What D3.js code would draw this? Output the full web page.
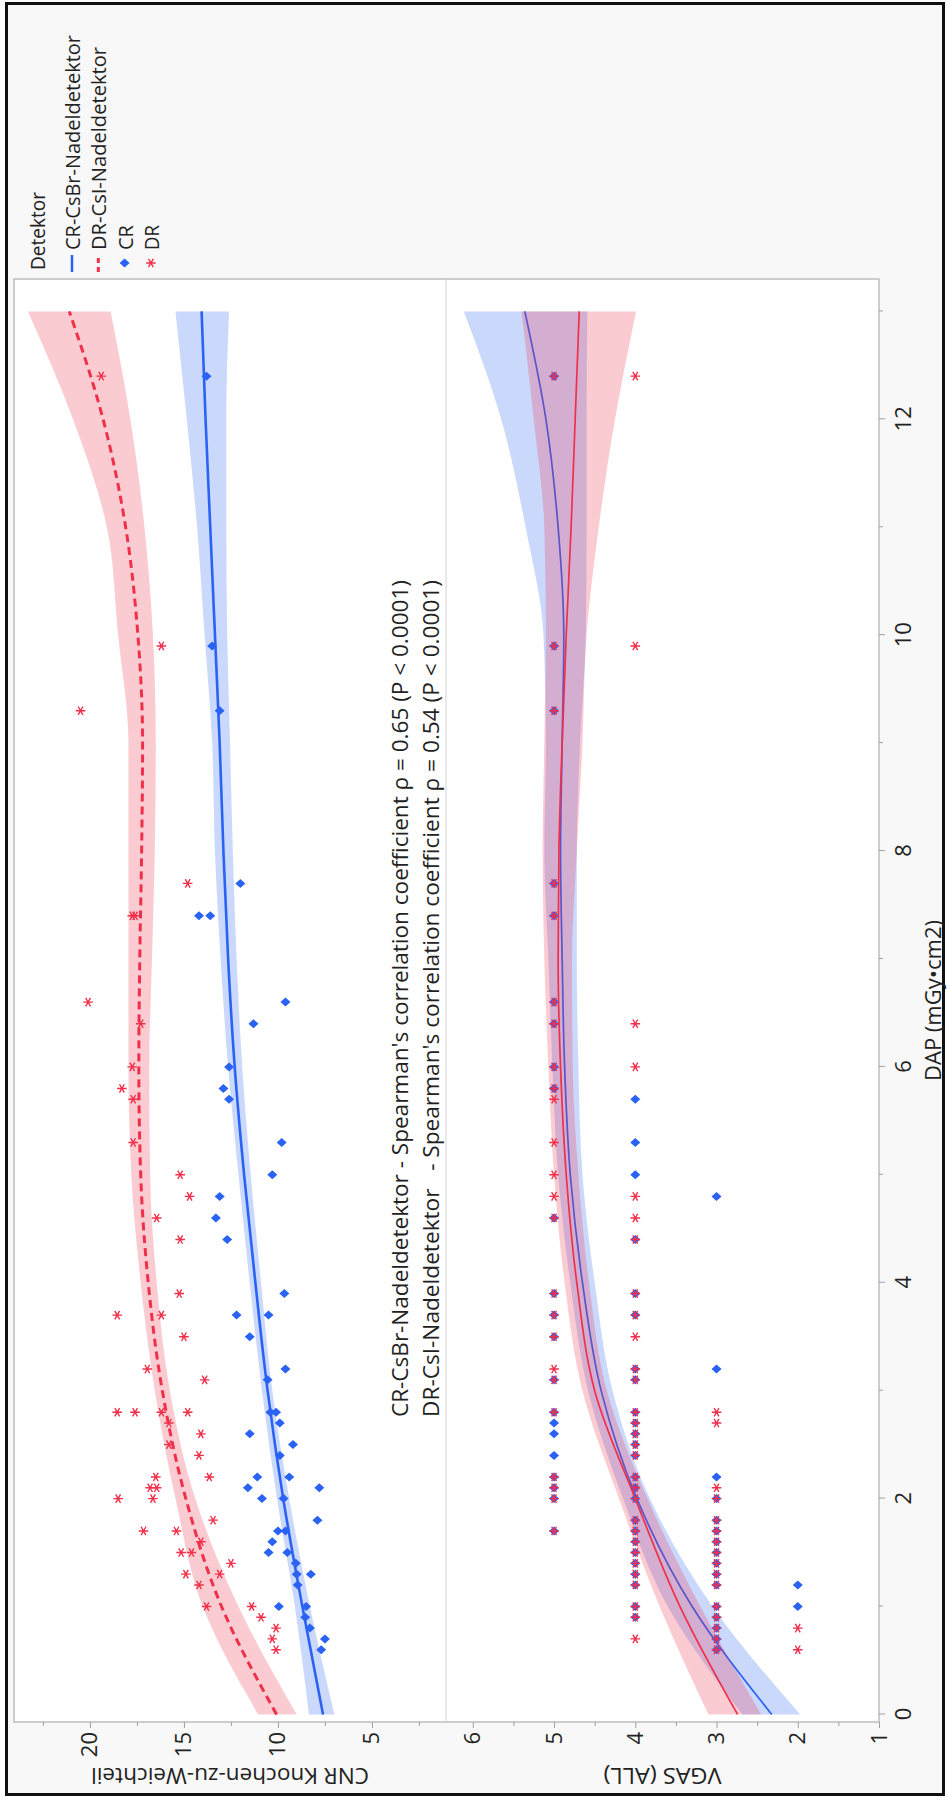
<!DOCTYPE html>
<html>
<head>
<meta charset="utf-8">
<script src="https://cdn.jsdelivr.net/npm/d3@7"></script>
<style>
  html, body { margin: 0; padding: 0; background: #fff; }
  svg { display: block; font-family: "Open Sans", "Noto Sans", sans-serif; }
</style>
</head>
<body>
<div id="chart"></div>
<script>
// ---- data ----
const dapTicks = [0, 2, 4, 6, 8, 10, 12];
const dapMinor = [1, 3, 5, 7, 9, 11, 13];
const cnrTicks = [5, 10, 15, 20];
const cnrMinor = [2.5, 7.5, 12.5, 17.5, 22.5];
const vgasTicks = [1, 2, 3, 4, 5, 6];
const vgasMinor = [1.5, 2.5, 3.5, 4.5, 5.5];

const legendLabels = ['CR-CsBr-Nadeldetektor', 'DR-CsI-Nadeldetektor', 'CR', 'DR'];
const legendLengths = [215, 203, 25, 25];
const noteLines = [
  'CR-CsBr-Nadeldetektor - Spearman\'s correlation coefficient \u03c1 = 0.65 (P < 0.0001)',
  'DR-CsI-Nadeldetektor   - Spearman\'s correlation coefficient \u03c1 = 0.54 (P < 0.0001)'
];

// fitted curves, sampled at DAP = fitDap
const fitDap = [0, 1, 2, 3, 4, 5, 6, 7, 8, 9, 10, 11, 12, 13];
const crCnrFit = [7.6, 8.7, 9.72, 10.55, 11.2, 11.8, 12.3, 12.65, 12.9, 13.1, 13.35, 13.6, 13.85, 14.06];
const crCnrLo  = [7.0, 8.3, 9.4, 10.3, 10.9, 11.45, 11.9, 12.2, 12.4, 12.55, 12.7, 12.75, 12.75, 12.6];
const crCnrHi  = [8.35, 9.1, 10.05, 10.85, 11.5, 12.1, 12.65, 13.05, 13.35, 13.5, 13.9, 14.3, 14.85, 15.45];
const drCnrFit = [10.07, 13.0, 14.9, 16.15, 16.9, 17.3, 17.4, 17.35, 17.25, 17.2, 17.45, 18.1, 19.3, 21.1];
const drCnrLo  = [9.0, 12.1, 14.4, 15.75, 16.45, 16.8, 16.85, 16.7, 16.55, 16.5, 16.65, 17.1, 17.85, 18.9];
const drCnrHi  = [11.05, 14.0, 15.45, 16.55, 17.3, 17.8, 17.95, 17.95, 17.95, 17.95, 18.5, 19.1, 20.9, 23.3];

const crVgasFit = [2.32, 3.3, 3.98, 4.42, 4.65, 4.8, 4.87, 4.9, 4.92, 4.9, 4.88, 4.95, 5.1, 5.36];
const crVgasLo  = [1.97, 3.05, 3.82, 4.28, 4.5, 4.65, 4.7, 4.72, 4.72, 4.68, 4.61, 4.6, 4.6, 4.59];
const crVgasHi  = [2.68, 3.6, 4.15, 4.58, 4.8, 4.95, 5.02, 5.07, 5.12, 5.1, 5.13, 5.35, 5.65, 6.11];
const drVgasFit = [2.74, 3.45, 4.0, 4.5, 4.72, 4.85, 4.92, 4.95, 4.94, 4.9, 4.85, 4.79, 4.74, 4.69];
const drVgasLo  = [2.45, 3.2, 3.85, 4.35, 4.57, 4.7, 4.77, 4.78, 4.72, 4.65, 4.6, 4.45, 4.25, 3.99];
const drVgasHi  = [3.1, 3.7, 4.2, 4.65, 4.87, 5.0, 5.07, 5.12, 5.14, 5.12, 5.1, 5.12, 5.25, 5.4];

// scatter: [DAP, value]
const crCnr = [[12.4,13.8],[9.9,13.5],[9.3,13.1],[7.7,12.0],[7.4,14.2],[7.4,13.6],[6.6,9.6],[6.4,11.3],
  [6.0,12.6],[5.8,12.9],[5.7,12.6],[5.3,9.8],[5.0,10.3],[4.8,13.1],[4.6,13.3],[4.4,12.7],[3.9,9.66],
  [3.7,12.2],[3.7,10.5],[3.5,11.5],[3.2,9.6],[3.1,10.55],[2.8,10.4],[2.8,10.1],[2.7,9.9],[2.6,11.5],
  [2.5,9.2],[2.4,9.9],[2.2,11.1],[2.2,9.4],[2.1,11.6],[2.1,7.8],[2.0,10.85],[2.0,9.7],[1.8,7.9],
  [1.7,10.0],[1.7,9.6],[1.6,10.3],[1.5,10.5],[1.5,9.5],[1.4,9.05],[1.3,9.0],[1.3,8.25],[1.2,8.95],
  [1.0,9.95],[1.0,8.5],[0.9,8.55],[0.8,8.3],[0.7,7.5],[0.6,7.7]];
const drCnr = [[12.4,19.4],[9.9,16.2],[9.3,20.5],[7.7,14.8],[7.4,17.75],[7.4,17.6],[6.6,20.1],[6.4,17.3],
  [6.0,17.75],[5.8,18.3],[5.7,17.7],[5.3,17.7],[5.0,15.2],[4.8,14.7],[4.6,16.45],[4.4,15.2],[3.9,15.25],
  [3.7,18.55],[3.7,16.2],[3.5,15.0],[3.2,16.95],[3.1,13.9],[2.8,18.55],[2.8,17.6],[2.8,16.2],[2.8,14.8],
  [2.7,15.8],[2.6,14.1],[2.5,15.8],[2.4,14.2],[2.2,16.5],[2.2,13.65],[2.1,16.8],[2.1,16.45],[2.0,18.5],
  [2.0,16.65],[1.8,13.45],[1.7,17.15],[1.7,15.4],[1.6,14.1],[1.5,15.15],[1.5,14.6],[1.4,12.5],[1.3,14.9],
  [1.3,13.1],[1.2,14.2],[1.0,13.8],[1.0,11.4],[0.9,10.9],[0.8,10.1],[0.7,10.3],[0.6,10.1]];

const crVgas = [[12.4,5],[9.9,5],[9.3,5],[7.7,5],[7.4,5],[6.6,5],[6.4,5],[6.0,5],[5.8,5],[5.7,4],[5.3,4],
  [5.0,4],[4.8,3],[4.6,5],[4.4,4],[3.9,5],[3.7,5],[3.5,5],[3.2,3],[3.1,5],[2.8,5],[2.7,5],[2.6,5],[2.4,5],
  [2.2,5],[2.1,5],[2.0,5],[1.7,5],[3.9,4],[3.7,4],[3.2,4],[3.1,4],[2.8,4],[2.7,4],[2.6,4],
  [2.5,4],[2.4,4],[2.2,4],[2.1,4],[2.0,4],[1.8,4],[1.7,4],[1.6,4],[1.5,4],
  [1.4,4],[1.3,4],[1.2,4],[1.0,4],[0.9,4],[2.2,3],[2.0,3],[1.8,3],[1.7,3],[1.6,3],[1.5,3],[1.4,3],[1.3,3],
  [1.2,3],[1.0,3],[0.9,3],[0.8,3],[0.7,3],[0.6,3],[1.2,2],[1.0,2]];
const drVgas = [[12.4,5],[9.9,5],[9.3,5],[7.7,5],[7.4,5],[6.6,5],[6.4,5],[6.0,5],[5.8,5],[5.7,5],[5.3,5],
  [5.0,5],[4.8,5],[4.6,5],[3.9,5],[3.7,5],[3.5,5],[3.2,5],[3.1,5],[2.8,5],[2.2,5],[2.1,5],[2.0,5],[1.7,5],
  [12.4,4],[9.9,4],[6.4,4],[6.0,4],[4.8,4],[4.6,4],[4.4,4],[3.9,4],[3.7,4],[3.5,4],[3.2,4],[3.1,4],
  [2.8,4],[2.7,4],[2.6,4],[2.5,4],[2.4,4],[2.2,4],
  [2.1,4],[2.0,4],[1.8,4],[1.7,4],[1.6,4],[1.5,4],[1.4,4],[1.3,4],[1.2,4],[1.0,4],[0.9,4],[0.7,4],
  [2.8,3],[2.7,3],[2.1,3],[2.0,3],[1.8,3],[1.7,3],[1.6,3],[1.5,3],[1.4,3],[1.3,3],[1.2,3],[1.0,3],[0.9,3],
  [0.8,3],[0.7,3],[0.6,3],[0.8,2],[0.6,2]];

// ---- layout ----
const W = 947, H = 1800;
const blue = '#2a62f4', red = '#f0304a';
const axisGrey = '#a0a0a0';
// the chart is drawn in its own frame (u along DAP, v across) and turned a quarter turn
const plot = { left: 78, right: 1521, top: 14, mid: 446, bottom: 879 };

const svg = d3.select('#chart').append('svg')
  .attr('width', W)
  .attr('height', H);

svg.append('rect')
  .attr('x', 6.5).attr('y', 3.5)
  .attr('width', 937).attr('height', 1791)
  .attr('fill', '#f8f8f8')
  .attr('stroke', '#111')
  .attr('stroke-width', 3);

const g = svg.append('g').attr('transform', `translate(0,${H}) rotate(-90)`);

const x = d3.scaleLinear().domain([-0.07, 13.3]).range([plot.left, plot.right]);
const yCnr = d3.scaleLinear().domain([1.06, 24.04]).range([plot.mid, plot.top]);
const yVgas = d3.scaleLinear().domain([1, 6.33]).range([plot.bottom, plot.mid]);

const defs = svg.append('defs');
defs.append('clipPath').attr('id', 'clipCnr').append('rect')
  .attr('x', plot.left).attr('y', plot.top)
  .attr('width', plot.right - plot.left).attr('height', plot.mid - plot.top);
defs.append('clipPath').attr('id', 'clipVgas').append('rect')
  .attr('x', plot.left).attr('y', plot.mid)
  .attr('width', plot.right - plot.left).attr('height', plot.bottom - plot.mid);

g.append('rect')
  .attr('x', plot.left).attr('y', plot.top)
  .attr('width', plot.right - plot.left).attr('height', plot.bottom - plot.top)
  .attr('fill', '#fff');

function zipFit(fit, lo, hi) {
  return fitDap.map((d, i) => ({ dap: d, fit: fit[i], lo: lo[i], hi: hi[i] }));
}

function drawFit(layer, y, rows, color, width, dash) {
  layer.append('path')
    .datum(rows)
    .attr('fill', color)
    .attr('fill-opacity', 0.25)
    .attr('d', d3.area().curve(d3.curveMonotoneX)
      .x(d => x(d.dap)).y0(d => y(d.lo)).y1(d => y(d.hi)));
  layer.append('path')
    .datum(rows)
    .attr('fill', 'none')
    .attr('stroke', color)
    .attr('stroke-width', width)
    .attr('stroke-dasharray', dash || null)
    .attr('d', d3.line().curve(d3.curveMonotoneX).x(d => x(d.dap)).y(d => y(d.fit)));
}

const diamond = 'M0,-5 L4.5,0 L0,5 L-4.5,0Z';
const asterisk = 'M0,-4.8 L0,4.8 M-4.2,-2.4 L4.2,2.4 M-4.2,2.4 L4.2,-2.4';

function drawPoints(layer, y, cr, dr) {
  layer.selectAll(null)
    .data(cr)
    .join('path')
    .attr('d', diamond)
    .attr('transform', d => `translate(${x(d[0])},${y(d[1])})`)
    .attr('fill', blue);
  layer.selectAll(null)
    .data(dr)
    .join('path')
    .attr('d', asterisk)
    .attr('transform', d => `translate(${x(d[0])},${y(d[1])})`)
    .attr('fill', 'none')
    .attr('stroke', red)
    .attr('stroke-width', 1.4);
}

// top panel (CNR)
const cnrLayer = g.append('g').attr('clip-path', 'url(#clipCnr)');
drawFit(cnrLayer, yCnr, zipFit(crCnrFit, crCnrLo, crCnrHi), blue, 2.6);
drawFit(cnrLayer, yCnr, zipFit(drCnrFit, drCnrLo, drCnrHi), red, 3, '8,5');
drawPoints(cnrLayer, yCnr, crCnr, drCnr);

// bottom panel (VGAS)
const vgasLayer = g.append('g').attr('clip-path', 'url(#clipVgas)');
drawFit(vgasLayer, yVgas, zipFit(crVgasFit, crVgasLo, crVgasHi), blue, 1.7);
drawFit(vgasLayer, yVgas, zipFit(drVgasFit, drVgasLo, drVgasHi), red, 1.7);
drawPoints(vgasLayer, yVgas, crVgas, drVgas);

// frame and panel divider
g.append('rect')
  .attr('x', plot.left).attr('y', plot.top)
  .attr('width', plot.right - plot.left).attr('height', plot.bottom - plot.top)
  .attr('fill', 'none')
  .attr('stroke', '#bdbdbd')
  .attr('stroke-width', 1.5);
g.append('line')
  .attr('x1', plot.left).attr('x2', plot.right)
  .attr('y1', plot.mid).attr('y2', plot.mid)
  .attr('stroke', '#d4d4d4')
  .attr('stroke-width', 1);

// axes
function styleAxis(sel) {
  sel.select('.domain').remove();
  sel.selectAll('.tick line').attr('stroke', axisGrey);
  sel.selectAll('.tick text')
    .attr('fill', '#222')
    .style('font-size', '22px')
    .style('font-family', '"Open Sans", "Noto Sans", sans-serif');
}

g.append('g')
  .attr('transform', `translate(0,${plot.bottom})`)
  .call(d3.axisBottom(x).tickValues(dapTicks).tickSize(6).tickPadding(10).tickFormat(d3.format('d')))
  .call(styleAxis);
g.append('g')
  .attr('transform', `translate(0,${plot.bottom})`)
  .call(d3.axisBottom(x).tickValues(dapMinor).tickSize(4).tickFormat(''))
  .call(styleAxis);

[[yCnr, cnrTicks, cnrMinor], [yVgas, vgasTicks, vgasMinor]].forEach(([y, major, minor]) => {
  g.append('g')
    .attr('transform', `translate(${plot.left},0)`)
    .call(d3.axisLeft(y).tickValues(major).tickSize(6).tickPadding(4).tickFormat(d3.format('d')))
    .call(styleAxis);
  g.append('g')
    .attr('transform', `translate(${plot.left},0)`)
    .call(d3.axisLeft(y).tickValues(minor).tickSize(4).tickFormat(''))
    .call(styleAxis);
});

// axis titles
g.append('text')
  .attr('x', (plot.left + plot.right) / 2)
  .attr('y', 941)
  .attr('text-anchor', 'middle')
  .attr('fill', '#222')
  .attr('textLength', 161)
  .attr('lengthAdjust', 'spacingAndGlyphs')
  .style('font-size', '21px')
  .text('DAP (mGy\u2022cm2)');

[['CNR Knochen-zu-Weichteil', yCnr, 278], ['VGAS (ALL)', yVgas, 118]].forEach(([label, y, len]) => {
  const mid = (y.range()[0] + y.range()[1]) / 2;
  g.append('text')
    .attr('transform', `translate(32,${mid}) rotate(-90)`)
    .attr('text-anchor', 'middle')
    .attr('fill', '#222')
    .attr('textLength', len)
    .attr('lengthAdjust', 'spacingAndGlyphs')
    .style('font-size', '21px')
    .text(label);
});

// correlation note
g.selectAll('.note')
  .data(noteLines)
  .join('text')
  .attr('class', 'note')
  .attr('x', 383)
  .attr('y', (d, i) => 408 + i * 31)
  .attr('fill', '#222')
  .attr('xml:space', 'preserve')
  .attr('textLength', 837)
  .attr('lengthAdjust', 'spacingAndGlyphs')
  .style('white-space', 'pre')
  .style('font-size', '21.5px')
  .text(d => d);

// legend
const legend = g.append('g').attr('transform', 'translate(1528,0)');
legend.append('text')
  .attr('x', 2).attr('y', 45)
  .attr('fill', '#222')
  .attr('textLength', 78)
  .attr('lengthAdjust', 'spacingAndGlyphs')
  .style('font-size', '20px')
  .text('Detektor');

const legendRows = legend.selectAll('.item')
  .data(legendLabels)
  .join('g')
  .attr('class', 'item')
  .attr('transform', (d, i) => `translate(0,${72 + i * 26.3})`);

legendRows.append('text')
  .attr('x', 22).attr('y', 8)
  .attr('fill', '#222')
  .attr('textLength', (d, i) => legendLengths[i])
  .attr('lengthAdjust', 'spacingAndGlyphs')
  .style('font-size', '20px')
  .text(d => d);

legendRows.filter((d, i) => i === 0).append('line')
  .attr('x1', 0).attr('x2', 17).attr('stroke', blue).attr('stroke-width', 2.5);
legendRows.filter((d, i) => i === 1).append('line')
  .attr('x1', 0).attr('x2', 17).attr('stroke', red).attr('stroke-width', 3)
  .attr('stroke-dasharray', '5,4');
legendRows.filter((d, i) => i === 2).append('path')
  .attr('d', diamond).attr('transform', 'translate(9,0)').attr('fill', blue);
legendRows.filter((d, i) => i === 3).append('path')
  .attr('d', asterisk).attr('transform', 'translate(9,0)')
  .attr('fill', 'none').attr('stroke', red).attr('stroke-width', 1.4);
</script>
</body>
</html>
